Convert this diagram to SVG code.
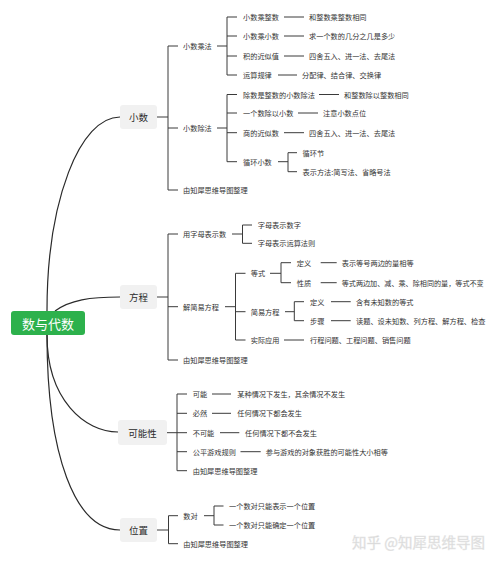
<svg xmlns="http://www.w3.org/2000/svg" width="500" height="562" viewBox="0 0 500 562">
<style>
text{font-family:"Noto Sans CJK SC","Noto Sans",sans-serif;dominant-baseline:central;fill:#333}
.t2{font-size:7.2px}
.t1{font-size:9.5px;text-anchor:middle;fill:#2a2a2a}
.root{font-size:13px;text-anchor:middle;fill:#fff}
.box{fill:#f1f1f1}
.ln{fill:none;stroke:#3a3a3a;stroke-width:1}
.cv{fill:none;stroke:#2a2a2a;stroke-width:1.2}
.wm{font-size:14.5px;fill:#d6d6d6;stroke:#e8e8e8;stroke-width:0.4}
</style>
<rect width="500" height="562" fill="#fff"/>
<g id="connectors">
<path class="cv" d="M47,311 C47,200 80,117 120,117"/>
<path class="cv" d="M55,311 C70,300 90,297 120,297"/>
<path class="cv" d="M47,335 C47,400 85,432 118,432"/>
<path class="cv" d="M47,335 C47,455 75,530 120,530"/>
<path class="ln" d="M157,117H168M168,46V190M168,46H178M168,128H178M168,190H178"/>
<path class="ln" d="M217,46H227M227,17V75M227,17H237M227,36H237M227,56H237M227,75H237"/>
<path class="ln" d="M284,17H304M284,36H304M284,56H304M278,75H297"/>
<path class="ln" d="M217,128H227M227,94.5V161.7M227,94.5H237M227,113H237M227,132.7H237M227,161.7H237"/>
<path class="ln" d="M319,94.5H339M298,113H318M284,132.7H304M278,161.7H288M288,152.7V171.7M288,152.7H297M288,171.7H297"/>
<path class="ln" d="M157,297H168M168,234V360M168,234H178M168,306.7H178M168,360H178"/>
<path class="ln" d="M232,234H242.5M242.5,225V243.3M242.5,225H252M242.5,243.3H252"/>
<path class="ln" d="M225,306.7H235.5M235.5,273.3V340M235.5,273.3H245.5M235.5,311.7H245.5M235.5,340H245.5"/>
<path class="ln" d="M270,273.3H281M281,262.7V282.7M281,262.7H291M281,282.7H291M320.7,262.7H336.7M320.7,282.7H336.7"/>
<path class="ln" d="M285,311.7H294.3M294.3,301.7V320.7M294.3,301.7H304M294.3,320.7H304M331,301.7H350.7M331,320.7H350.7"/>
<path class="ln" d="M284,340H304"/>
<path class="ln" d="M167,432.7H177M177,394V470.7M177,394H187M177,413.3H187M177,432.7H187M177,451.7H187M177,470.7H187"/>
<path class="ln" d="M212,394H231M212,413.3H231M220,432.7H239.3M240.5,451.7H260.7"/>
<path class="ln" d="M157,530H168.5M168.5,515.7V543.7M168.5,515.7H178M168.5,543.7H178"/>
<path class="ln" d="M204,515.7H214M214,506V525M214,506H223.5M214,525H223.5"/>
</g>
<g id="root"><rect x="11" y="311" width="74" height="24" rx="3" fill="#2db14c"/><text class="root" x="48" y="323">数与代数</text></g>
<g id="n-xiaoshu"><rect class="box" x="120" y="105" width="37" height="24" rx="3"/><text class="t1" x="138.5" y="117">小数</text></g>
<g id="n-fangcheng"><rect class="box" x="120" y="285" width="37" height="24" rx="3"/><text class="t1" x="138.5" y="297">方程</text></g>
<g id="n-kenengxing"><rect class="box" x="118" y="420" width="49" height="25" rx="3"/><text class="t1" x="142.5" y="432.5">可能性</text></g>
<g id="n-weizhi"><rect class="box" x="120" y="518" width="37" height="24" rx="3"/><text class="t1" x="138.5" y="530">位置</text></g>
<g id="xiaoshu-sub" class="t2">
<g id="n-cheng"><text x="183" y="46">小数乘法</text></g>
<g id="n-chu"><text x="183" y="128">小数除法</text></g>
<g id="n-src1"><text x="183" y="190">由知犀思维导图整理</text></g>
<g id="n-c1"><text x="243" y="17">小数乘整数</text><text x="309" y="17">和整数乘整数相同</text></g>
<g id="n-c2"><text x="243" y="36">小数乘小数</text><text x="309" y="36">求一个数的几分之几是多少</text></g>
<g id="n-c3"><text x="243" y="56">积的近似值</text><text x="309" y="56">四舍五入、进一法、去尾法</text></g>
<g id="n-c4"><text x="243" y="75">运算规律</text><text x="302" y="75">分配律、结合律、交换律</text></g>
<g id="n-d1"><text x="243" y="94.5">除数是整数的小数除法</text><text x="344" y="94.5">和整数除以整数相同</text></g>
<g id="n-d2"><text x="243" y="113">一个数除以小数</text><text x="323" y="113">注意小数点位</text></g>
<g id="n-d3"><text x="243" y="132.7">商的近似数</text><text x="309" y="132.7">四舍五入、进一法、去尾法</text></g>
<g id="n-d4"><text x="243" y="161.7">循环小数</text><text x="302.5" y="152.7">循环节</text><text x="302.5" y="171.7">表示方法:简写法、省略号法</text></g>
</g>
<g id="fangcheng-sub" class="t2">
<g id="n-zimu"><text x="183" y="234">用字母表示数</text><text x="257.7" y="225">字母表示数字</text><text x="257.7" y="243.3">字母表示运算法则</text></g>
<g id="n-jie"><text x="183" y="306.7">解简易方程</text></g>
<g id="n-dengshi"><text x="250.7" y="273.3">等式</text><text x="296.7" y="262.7">定义</text><text x="341.7" y="262.7">表示等号两边的量相等</text><text x="296.7" y="282.7">性质</text><text x="341.7" y="282.7" textLength="142" lengthAdjust="spacingAndGlyphs">等式两边加、减、乘、除相同的量，等式不变</text></g>
<g id="n-jianyi"><text x="250.7" y="311.7">简易方程</text><text x="310" y="301.7">定义</text><text x="356" y="301.7">含有未知数的等式</text><text x="310" y="320.7">步骤</text><text x="356" y="320.7">读题、设未知数、列方程、解方程、检查</text></g>
<g id="n-shiji"><text x="250.7" y="340">实际应用</text><text x="310" y="340">行程问题、工程问题、销售问题</text></g>
<g id="n-src2"><text x="183" y="360">由知犀思维导图整理</text></g>
</g>
<g id="keneng-sub" class="t2">
<g id="n-k1"><text x="192.7" y="394">可能</text><text x="237.3" y="394">某种情况下发生，其余情况不发生</text></g>
<g id="n-k2"><text x="192.7" y="413.3">必然</text><text x="237.3" y="413.3">任何情况下都会发生</text></g>
<g id="n-k3"><text x="192.7" y="432.7">不可能</text><text x="245" y="432.7">任何情况下都不会发生</text></g>
<g id="n-k4"><text x="192.7" y="451.7">公平游戏规则</text><text x="265.7" y="451.7">参与游戏的对象获胜的可能性大小相等</text></g>
<g id="n-src3"><text x="192.7" y="470.7">由知犀思维导图整理</text></g>
</g>
<g id="weizhi-sub" class="t2">
<g id="n-shudui"><text x="183.3" y="515.7">数对</text><text x="229" y="506">一个数对只能表示一个位置</text><text x="229" y="525">一个数对只能确定一个位置</text></g>
<g id="n-src4"><text x="183.3" y="543.7">由知犀思维导图整理</text></g>
</g>
<text class="wm" x="352" y="541.7">知乎 @知犀思维导图</text>
</svg>
